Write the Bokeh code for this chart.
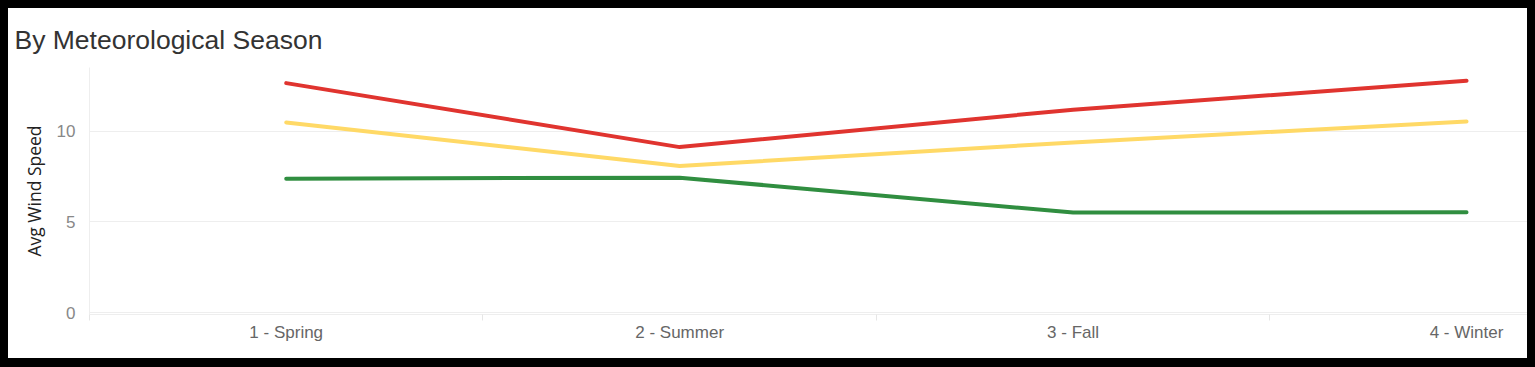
from bokeh.plotting import figure
from bokeh.layouts import column
from bokeh.models import FixedTicker, Range1d
from bokeh.embed import file_html
from bokeh.resources import INLINE

title_text = "By Meteorological Season"
seasons = ["1 - Spring", "2 - Summer", "3 - Fall", "4 - Winter"]
red_vals = [12.64, 9.12, 11.18, 12.77]
yellow_vals = [10.48, 8.08, 9.38, 10.53]
green_vals = [7.38, 7.44, 5.52, 5.53]
y_ticks = [0, 5, 10]

xs = list(range(1, len(seasons) + 1))

p = figure(width=1519, height=350, output_backend="svg", toolbar_location=None,
           x_range=Range1d(0.5, 4.155), y_range=Range1d(-0.09, 13.5),
           title=title_text, outline_line_color=None,
           border_fill_color="white", background_fill_color="white",
           min_border_left=81, min_border_right=0, min_border_top=59, min_border_bottom=44)

p.title.text_font = "Liberation Sans"
p.title.text_font_size = "26.5px"
p.title.text_font_style = "normal"
p.title.text_color = "#333333"
p.title.offset = -75
p.title.standoff = 26
p.title.border_line_color = None

for vals, col in [(red_vals, "#e0342f"), (yellow_vals, "#ffd966"), (green_vals, "#308e40")]:
    p.line(xs, vals, line_color=col, line_width=4, line_cap="round", line_join="round")

p.xaxis.ticker = FixedTicker(ticks=xs, minor_ticks=[0.5, 1.5, 2.5, 3.5])
p.xaxis.major_label_overrides = {i + 1: s for i, s in enumerate(seasons)}
p.xaxis.major_tick_line_color = None
p.xaxis.minor_tick_line_color = "#e6e6e6"
p.xaxis.minor_tick_in = 0
p.xaxis.minor_tick_out = 6
p.xaxis.axis_line_color = "#dddddd"
p.xaxis.axis_line_dash = "1 1"
p.xaxis.major_label_text_font = "Liberation Sans"
p.xaxis.major_label_text_font_size = "17px"
p.xaxis.major_label_text_color = "#666666"
p.xaxis.major_label_standoff = 2

p.yaxis.ticker = FixedTicker(ticks=y_ticks)
p.yaxis.major_tick_line_color = None
p.yaxis.minor_tick_line_color = None
p.yaxis.axis_line_color = "#eeeeee"
p.yaxis.major_label_text_font = "Liberation Sans"
p.yaxis.major_label_text_font_size = "17px"
p.yaxis.major_label_text_color = "#888888"
p.yaxis.major_label_standoff = 8
p.yaxis.axis_label = "Avg Wind Speed"
p.yaxis.axis_label_text_font = "Open Sans"
p.yaxis.axis_label_text_font_size = "17.5px"
p.yaxis.axis_label_text_font_style = "normal"
p.yaxis.axis_label_text_color = "#222222"
p.yaxis.axis_label_standoff = 8

p.xgrid.grid_line_color = None
p.ygrid.grid_line_color = "#eeeeee"

inner = column(p, styles={"background-color": "white"})
layout = column(inner, styles={"background-color": "black", "padding": "8px 8px 9px 8px"})

open("out.html", "w").write(file_html(layout, INLINE))
